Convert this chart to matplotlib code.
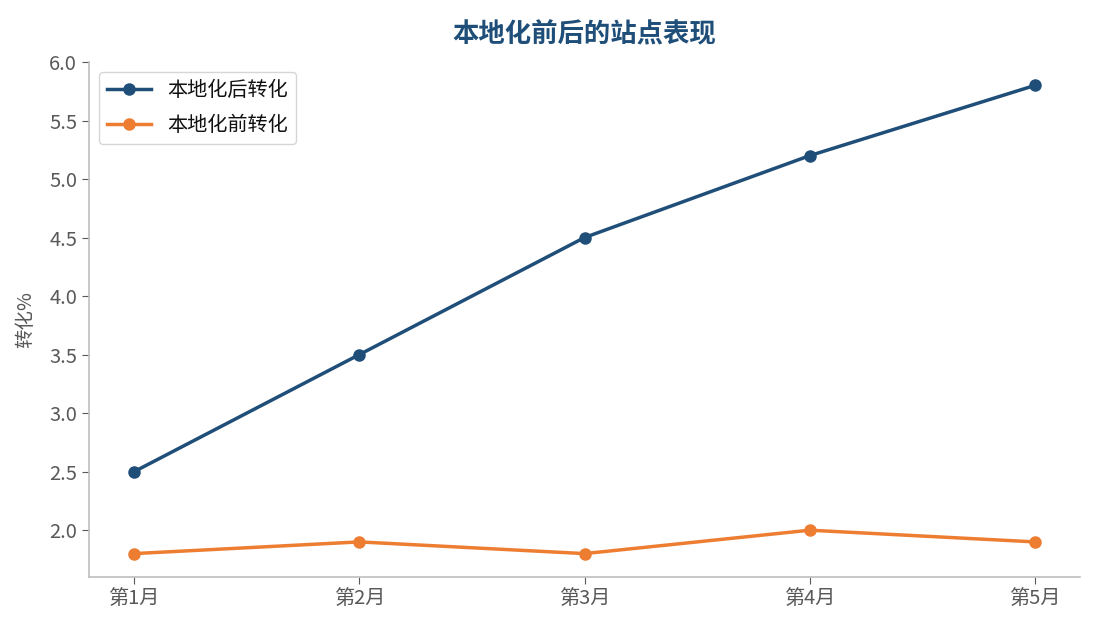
import matplotlib
matplotlib.use("Agg")
import matplotlib.pyplot as plt

plt.rcParams['font.family'] = ['Noto Sans CJK SC', 'DejaVu Sans']

months = ["第1月", "第2月", "第3月", "第4月", "第5月"]
after = [2.5, 3.5, 4.5, 5.2, 5.8]
before = [1.8, 1.9, 1.8, 2.0, 1.9]
series_labels = ["本地化后转化", "本地化前转化"]
title = "本地化前后的站点表现"
ylabel = "转化%"

fig = plt.figure(figsize=(10.95, 6.3), dpi=100)
ax = fig.add_axes([0.0813, 0.0841, 0.905, 0.8175])

x = range(len(months))
ax.plot(x, after, color="#1f4e79", lw=2.5, marker="o", ms=8, label=series_labels[0])
ax.plot(x, before, color="#ed7d31", lw=2.5, marker="o", ms=8, label=series_labels[1])

ax.set_xticks(list(x))
ax.set_xticklabels(months)
ax.set_ylabel(ylabel, fontsize=14, color="#595959", labelpad=9)
ax.set_title(title, fontsize=19, fontweight="bold", color="#1f4e79", pad=14)

for s in ["top", "right"]:
    ax.spines[s].set_visible(False)
for s in ["left", "bottom"]:
    ax.spines[s].set_color("#bfbfbf")
    ax.spines[s].set_linewidth(1.2)
ax.tick_params(colors="#595959", labelsize=14.5, length=5)

leg = ax.legend(loc="upper left", fontsize=14.5, frameon=True, borderaxespad=0.5,
                labelspacing=0.7, handlelength=2.2)
leg.get_frame().set_edgecolor("#cccccc")
for t in leg.get_texts():
    t.set_color("#111111")

fig.savefig("out.png", dpi=100)
